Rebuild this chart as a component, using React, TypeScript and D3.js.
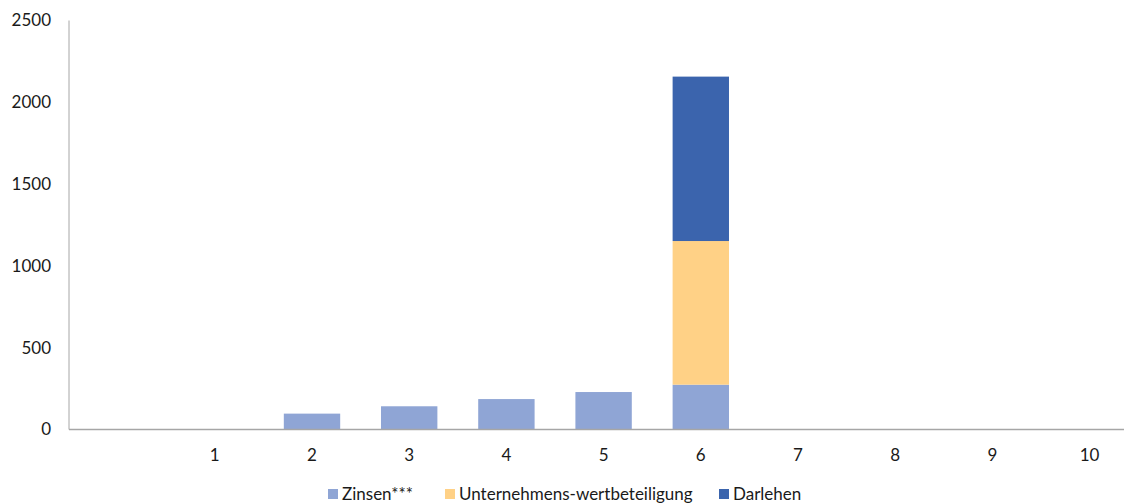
import { useEffect, useRef } from "react";
import * as d3 from "d3";

const categories = ["", "1", "2", "3", "4", "5", "6", "7", "8", "9", "10"];
const seriesNames = ["Zinsen***", "Unternehmens-wertbeteiligung", "Darlehen"];
const zinsen = [0, 0, 97, 142, 186, 229, 274, 0, 0, 0, 0];
const unternehmen = [0, 0, 0, 0, 0, 0, 878, 0, 0, 0, 0];
const darlehen = [0, 0, 0, 0, 0, 0, 1005, 0, 0, 0, 0];
const yTicks = [0, 500, 1000, 1500, 2000, 2500];
const colors = ["#8FA5D5", "#FFD186", "#3B64AD"];

const App: React.FC = () => {
  const ref = useRef<HTMLDivElement>(null);

  useEffect(() => {
    const width = 1124;
    const height = 504;
    const font = "Lato, 'Open Sans', sans-serif";

    const svg = d3.select(ref.current)
      .selectAll("svg")
      .data([null])
      .join("svg")
      .attr("width", width)
      .attr("height", height)
      .style("display", "block");
    svg.selectAll("*").remove();

    const x = d3.scaleBand<string>()
      .domain(categories)
      .range([69, 69 + 97.2 * categories.length])
      .paddingInner(0.42)
      .paddingOuter(0.21);

    const y = d3.scaleLinear().domain([0, 2500]).range([429.5, 20.5]);

    // gestapelte daten
    const rows = categories.map((c, i) => ({
      cat: c,
      s0: zinsen[i],
      s1: unternehmen[i],
      s2: darlehen[i],
    }));
    const stack = d3.stack<any>().keys(["s0", "s1", "s2"]);
    const layers = stack(rows);

    svg.append("g")
      .selectAll("g")
      .data(layers)
      .join("g")
      .attr("fill", (_, i) => colors[i])
      .selectAll("rect")
      .data(d => d.filter(p => p[1] - p[0] > 0))
      .join("rect")
      .attr("x", d => x(d.data.cat)!)
      .attr("width", x.bandwidth())
      .attr("y", d => y(d[1]))
      .attr("height", d => y(d[0]) - y(d[1]));

    // achsen
    svg.append("line")
      .attr("x1", 69).attr("x2", 69)
      .attr("y1", y(2500)).attr("y2", y(0))
      .attr("stroke", "#A6A6A6").attr("stroke-width", 1);
    svg.append("line")
      .attr("x1", 69).attr("x2", width)
      .attr("y1", y(0)).attr("y2", y(0))
      .attr("stroke", "#A6A6A6").attr("stroke-width", 1.5);

    svg.append("g")
      .selectAll("text")
      .data(yTicks)
      .join("text")
      .attr("x", 51)
      .attr("y", d => y(d))
      .attr("dy", "0.35em")
      .attr("text-anchor", "end")
      .attr("font-family", font)
      .attr("font-size", 17)
      .attr("fill", "#1a1a1a")
      .text(d => d);

    svg.append("g")
      .selectAll("text")
      .data(categories.filter(c => c !== ""))
      .join("text")
      .attr("x", d => x(d)! + x.bandwidth() / 2)
      .attr("y", 455)
      .attr("dy", "0.35em")
      .attr("text-anchor", "middle")
      .attr("font-family", font)
      .attr("font-size", 17)
      .attr("fill", "#1a1a1a")
      .text(d => d);

    // legende
    const legendX = [328, 445, 719];
    const legend = svg.append("g")
      .selectAll("g")
      .data(seriesNames)
      .join("g")
      .attr("transform", (_, i) => `translate(${legendX[i]},494)`);
    legend.append("rect")
      .attr("x", 0).attr("y", -5)
      .attr("width", 10).attr("height", 10)
      .attr("fill", (_, i) => colors[i]);
    legend.append("text")
      .attr("x", 14)
      .attr("dy", "0.35em")
      .attr("font-family", font)
      .attr("font-size", 17)
      .attr("fill", "#1a1a1a")
      .text(d => d);
  }, []);

  return <div ref={ref} style={{ position: "absolute", left: 0, top: 0 }} />;
};

export default App;
